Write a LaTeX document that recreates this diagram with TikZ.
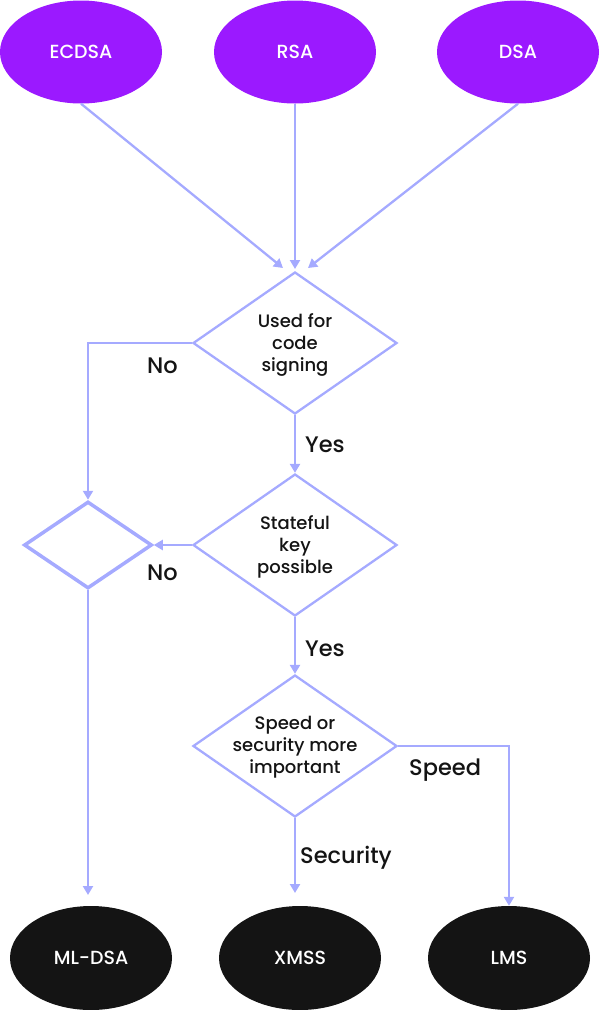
\documentclass[tikz,border=0pt]{standalone}
\usepackage{fontspec}
\setmainfont{Poppins}
\newfontfamily\medfont{Poppins Medium}
\usetikzlibrary{shapes.geometric,arrows.meta}
\definecolor{purp}{RGB}{155,25,255}
\definecolor{lav}{RGB}{165,170,255}
\definecolor{dark}{RGB}{20,20,20}
\begin{document}
\begin{tikzpicture}[x=1pt,y=-1pt,
  topnode/.style={ellipse,fill=purp,minimum width=162pt,minimum height=103pt,inner sep=0pt,text=white,font=\medfont\fontsize{19}{22}\selectfont},
  resnode/.style={ellipse,fill=dark,minimum width=162pt,minimum height=104pt,inner sep=0pt,text=white,font=\medfont\fontsize{19}{22}\selectfont},
  dec/.style={diamond,draw=lav,line width=2.3pt,minimum width=204pt,minimum height=142pt,inner sep=0pt},
  dtext/.style={align=center,font=\medfont\fontsize{18}{22}\selectfont,text=dark,inner sep=0pt},
  lab/.style={font=\medfont\fontsize{22.5}{26}\selectfont,text=dark,anchor=base west,inner sep=0pt},
  conn/.style={draw=lav,line width=2.3pt,-{Triangle[length=9pt,width=10pt]}}]
\useasboundingbox (0,0) rectangle (600,1010);
% top sources
\node[topnode] (ecdsa) at (81,52) {ECDSA};
\node[topnode] (rsa) at (295,52) {RSA};
\node[topnode] (dsa) at (518,52) {DSA};
% decisions
\node[dec] (d1) at (295,343) {};
\node[dtext] (d1t) at (295,345) {Used for\\code\\signing};
\node[dec] (d2) at (295,545) {};
\node[dtext] (d2t) at (295,547) {Stateful\\key\\possible};
\node[dec] (d3) at (295,746) {};
\node[dtext] (d3t) at (295,747) {Speed or\\security more\\important};
\node[dec,line width=3.5pt,minimum width=128pt,minimum height=87pt] (d0) at (88,545) {};
% results
\node[resnode] (mldsa) at (91,958) {ML-DSA};
\node[resnode] (xmss) at (300,958) {XMSS};
\node[resnode] (lms) at (509,958) {LMS};
% connector end points
\coordinate (e1) at (283,268);
\coordinate (e2) at (295,269);
\coordinate (e3) at (308,268);
\coordinate (em) at (88,895);
\coordinate (ex) at (295,893);
% connectors
\draw[conn] (ecdsa.south) -- (e1);
\draw[conn] (rsa.south) -- (e2);
\draw[conn] (dsa.south) -- (e3);
\draw[conn] (d1.south) -- (d2.north);
\draw[conn] (d1.west) -| (d0.north);
\draw[conn] (d2.west) -- (d0.east);
\draw[conn] (d2.south) -- (d3.north);
\draw[conn] (d0.south) -- (em);
\draw[conn] (d3.south) -- (ex);
\draw[conn] (d3.east) -| (lms.north);
% labels
\node[lab] (yes1) at (305,452) {Yes};
\node[lab] (no1) at (147,373) {No};
\node[lab] (no2) at (147,580) {No};
\node[lab] (yes2) at (305,656) {Yes};
\node[lab] (sec) at (300,863) {Security};
\node[lab] (spd) at (409,775) {Speed};
\end{tikzpicture}
\end{document}
